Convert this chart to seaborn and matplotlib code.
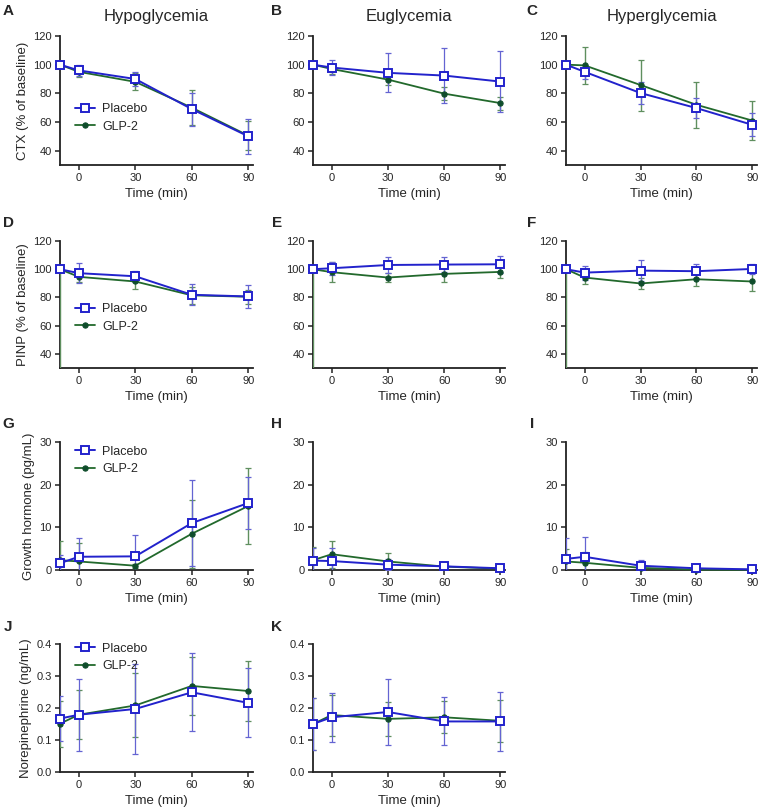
import numpy as np
import matplotlib
matplotlib.use("Agg")
import matplotlib.pyplot as plt
import seaborn as sns

# sampling times (min); -10 is baseline
time = [-10, 0, 30, 60, 90]

col_titles = ["Hypoglycemia", "Euglycemia", "Hyperglycemia"]
panel_letters = ["A", "B", "C", "D", "E", "F", "G", "H", "I", "J", "K"]
row_ylabels = ["CTX (% of baseline)", "PINP (% of baseline)",
               "Growth hormone (pg/mL)", "Norepinephrine (ng/mL)"]

# CTX
ctx_hypo_pla = [100, 96, 90, 69, 50]
ctx_hypo_pla_sd = [0, 4, 5, 11.5, 12]
ctx_hypo_glp = [100, 95, 88, 70, 50.5]
ctx_hypo_glp_sd = [0, 3.5, 6, 12, 10]

ctx_eu_pla = [100, 98, 94.3, 92.4, 88.2]
ctx_eu_pla_sd = [0, 5.5, 13.5, 19, 21]
ctx_eu_glp = [100, 97, 89.6, 79.8, 73.2]
ctx_eu_glp_sd = [0, 3.5, 3.5, 4.5, 4.5]

ctx_hyper_pla = [100, 95, 80.2, 69.7, 58]
ctx_hyper_pla_sd = [0, 5, 7.5, 7, 8]
ctx_hyper_glp = [100, 99.5, 85.8, 72, 61]
ctx_hyper_glp_sd = [0, 13, 17.8, 16, 13.5]

# PINP
pinp_hypo_pla = [100, 97.2, 95, 81.9, 80.7]
pinp_hypo_pla_sd = [0, 7, 4, 7.5, 8]
pinp_hypo_glp = [100, 94.6, 91.3, 81.5, 80.5]
pinp_hypo_glp_sd = [0, 4, 5, 6, 5]

pinp_eu_pla = [100, 100.7, 103, 103.3, 103.5]
pinp_eu_pla_sd = [0, 4.5, 6, 5.5, 6]
pinp_eu_glp = [100, 97.9, 94.1, 96.7, 98.1]
pinp_eu_glp_sd = [0, 7, 3, 6, 4.5]

pinp_hyper_pla = [100, 97.6, 99, 98.6, 100.2]
pinp_hyper_pla_sd = [0, 5, 7.5, 5, 3.5]
pinp_hyper_glp = [100, 94.1, 89.9, 92.9, 91.3]
pinp_hyper_glp_sd = [0, 4.5, 4, 5, 6.5]

# lower error of the GLP-2 baseline point in the PINP row (runs off the axis)
pinp_glp_base_lo = 100

# Growth hormone
gh_hypo_pla = [1.6, 3.1, 3.2, 11, 15.7]
gh_hypo_pla_sd = [2, 4.5, 5, 10, 6]
gh_hypo_glp = [2.3, 2.0, 1.0, 8.5, 15.0]
gh_hypo_glp_sd = [4.5, 4.4, 0.5, 8, 9]

gh_eu_pla = [2.2, 2.1, 1.25, 0.86, 0.4]
gh_eu_pla_sd = [3, 3, 1.3, 0.7, 0.3]
gh_eu_glp = [2.3, 3.7, 2.0, 0.8, 0.3]
gh_eu_glp_sd = [3.2, 3.2, 1.9, 0.6, 0.2]

gh_hyper_pla = [2.6, 3.1, 1.0, 0.4, 0.15]
gh_hyper_pla_sd = [4.8, 4.7, 1.3, 0.3, 0.1]
gh_hyper_glp = [2.0, 1.7, 0.5, 0.1, 0.05]
gh_hyper_glp_sd = [3, 2.5, 0.5, 0.1, 0.05]

# Norepinephrine
ne_hypo_pla = [0.167, 0.179, 0.197, 0.249, 0.216]
ne_hypo_pla_sd = [0.07, 0.112, 0.142, 0.122, 0.108]
ne_hypo_glp = [0.151, 0.179, 0.208, 0.269, 0.253]
ne_hypo_glp_sd = [0.072, 0.077, 0.10, 0.09, 0.093]

ne_eu_pla = [0.15, 0.171, 0.1875, 0.158, 0.158]
ne_eu_pla_sd = [0.08, 0.077, 0.104, 0.075, 0.092]
ne_eu_glp = [0.15, 0.178, 0.166, 0.171, 0.16]
ne_eu_glp_sd = [0.08, 0.064, 0.052, 0.05, 0.065]

BLUE = "#2222cc"
BLUE_ERR = "#6464d2"
GREEN = "#22692c"
GREEN_DARK = "#0f4d2c"
GREEN_ERR = "#5f8f5f"

sns.set_style("ticks")
plt.rcParams['font.family'] = ['Liberation Sans', 'DejaVu Sans']

fig = plt.figure(figsize=(7.6, 8.09), dpi=100)

W, H = 760, 809
col_left = [60, 313, 566]
col_width = [193, 192, 191]
row_top = [36, 241, 442, 644]
row_bottom = [165, 368, 570, 772]

row_ylim = [(30, 120), (30, 120), (0, 30), (0, 0.4)]
row_yticks = [[40, 60, 80, 100, 120], [40, 60, 80, 100, 120],
              [0, 10, 20, 30], [0.0, 0.1, 0.2, 0.3, 0.4]]
row_yfmt = ["{:.0f}", "{:.0f}", "{:.0f}", "{:.1f}"]
legend_anchor = [(0.05, 0.52), (0.05, 0.55), (0.05, 1.01), (0.05, 1.05)]

panels = [
    [(ctx_hypo_pla, ctx_hypo_pla_sd, ctx_hypo_glp, ctx_hypo_glp_sd),
     (ctx_eu_pla, ctx_eu_pla_sd, ctx_eu_glp, ctx_eu_glp_sd),
     (ctx_hyper_pla, ctx_hyper_pla_sd, ctx_hyper_glp, ctx_hyper_glp_sd)],
    [(pinp_hypo_pla, pinp_hypo_pla_sd, pinp_hypo_glp, pinp_hypo_glp_sd),
     (pinp_eu_pla, pinp_eu_pla_sd, pinp_eu_glp, pinp_eu_glp_sd),
     (pinp_hyper_pla, pinp_hyper_pla_sd, pinp_hyper_glp, pinp_hyper_glp_sd)],
    [(gh_hypo_pla, gh_hypo_pla_sd, gh_hypo_glp, gh_hypo_glp_sd),
     (gh_eu_pla, gh_eu_pla_sd, gh_eu_glp, gh_eu_glp_sd),
     (gh_hyper_pla, gh_hyper_pla_sd, gh_hyper_glp, gh_hyper_glp_sd)],
    [(ne_hypo_pla, ne_hypo_pla_sd, ne_hypo_glp, ne_hypo_glp_sd),
     (ne_eu_pla, ne_eu_pla_sd, ne_eu_glp, ne_eu_glp_sd)],
]

k = 0
for r, row in enumerate(panels):
    for c, (pla, pla_sd, glp, glp_sd) in enumerate(row):
        ax = fig.add_axes([col_left[c] / W, 1 - row_bottom[r] / H,
                           col_width[c] / W, (row_bottom[r] - row_top[r]) / H])

        glp_lo = list(glp_sd)
        if r == 1:
            glp_lo[0] = pinp_glp_base_lo
        ax.errorbar(time, glp, yerr=[glp_lo, glp_sd], fmt="none", ecolor=GREEN_ERR,
                    elinewidth=1.0, capsize=2.5, capthick=0.9, zorder=3)
        ax.errorbar(time, pla, yerr=pla_sd, fmt="none", ecolor=BLUE_ERR,
                    elinewidth=0.9, capsize=2.5, capthick=0.9, zorder=3.2)

        sns.lineplot(x=time, y=glp, ax=ax, color=GREEN, lw=1.3, marker="o",
                     markersize=3.8, markerfacecolor=GREEN_DARK,
                     markeredgecolor=GREEN_DARK, label="GLP-2", zorder=4,
                     clip_on=False)
        sns.lineplot(x=time, y=pla, ax=ax, color=BLUE, lw=1.4, marker="s",
                     markersize=5.2, markerfacecolor="white", markeredgecolor=BLUE,
                     markeredgewidth=1.4, label="Placebo", zorder=5, clip_on=False)

        ax.set_xlim(-10, 92.5)
        ax.set_ylim(*row_ylim[r])
        ax.set_xticks([0, 30, 60, 90])
        ax.set_yticks(row_yticks[r])
        ax.set_yticklabels([row_yfmt[r].format(v) for v in row_yticks[r]])
        ax.tick_params(axis="both", labelsize=8, length=3.5, width=1.1,
                       color="#222222", pad=2.5)
        for s in ["left", "bottom"]:
            ax.spines[s].set_linewidth(1.3)
            ax.spines[s].set_color("#222222")
        sns.despine(ax=ax)

        ax.set_xlabel("Time (min)", fontsize=9.5, labelpad=3.5)
        if c == 0:
            ax.set_ylabel(row_ylabels[r], fontsize=9.5, labelpad=3)
            h, l = ax.get_legend_handles_labels()
            ax.legend(h[::-1], l[::-1], loc="upper left",
                      bbox_to_anchor=legend_anchor[r], frameon=False,
                      fontsize=9, handlelength=1.6, handletextpad=0.6,
                      labelspacing=0.45, borderaxespad=0)
        else:
            ax.set_ylabel("")
            ax.get_legend().remove()

        if r == 0:
            ax.set_title(col_titles[c], fontsize=12, pad=11)

        lx = [8, 277, 532][c]
        ly = [11, 223, 424, 627][r]
        fig.text(lx / W, 1 - ly / H, panel_letters[k], fontsize=11,
                 fontweight="bold", ha="center", va="center")
        k += 1

fig.savefig("out.png", dpi=100)
